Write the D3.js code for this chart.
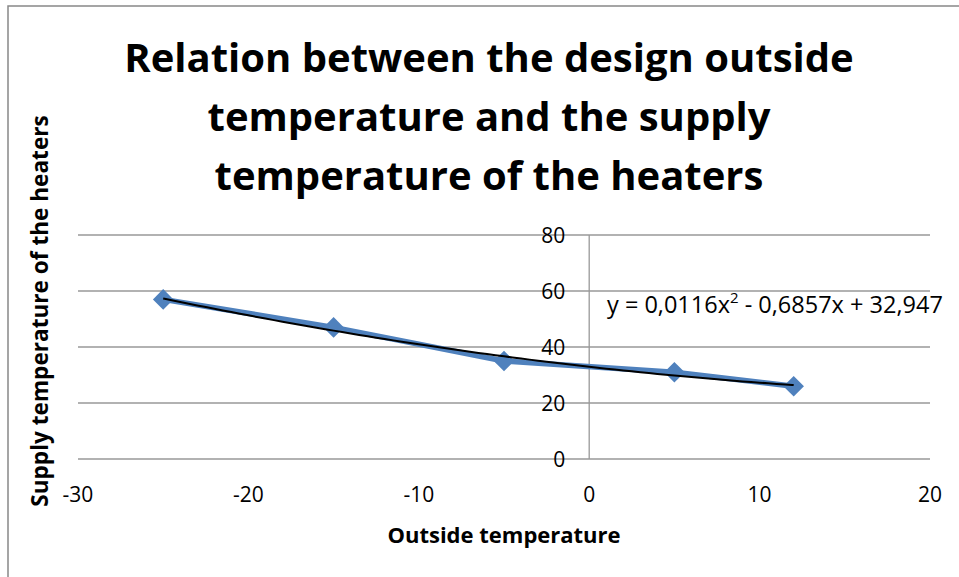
<!DOCTYPE html>
<html lang="en">
<head>
    <meta charset="UTF-8">
    <title>Supply temperature</title>
    <script src="https://d3js.org/d3.v7.min.js"></script>
    <style>
        body { margin: 0; background: #fff; }
        text { font-family: "Open Sans", Lato, sans-serif; fill: #000; }
    </style>
</head>
<body>
<div id="chart"></div>
<script>
    // data
    let outsideTemp = [-25, -15, -5, 5, 12];
    let supplyTemp = [57, 47, 35, 31, 26];
    let trendCoef = [0.0116, -0.6857, 32.947];   // a, b, c of y = ax² + bx + c
    let xTicks = [-30, -20, -10, 0, 10, 20];
    let yTicks = [0, 20, 40, 60, 80];
    let titleLines = ["Relation between the design outside", "temperature and the supply", "temperature of the heaters"];

    let width = 959, height = 577;
    let margin = {top: 235, right: 30, bottom: 118, left: 78};

    let svg = d3.select("#chart").append("svg")
        .attr("width", width)
        .attr("height", height);

    // chart frame (only top and left edges visible)
    svg.append("path")
        .attr("d", `M8,${height} V6 H${width}`)
        .attr("fill", "none")
        .attr("stroke", "#888")
        .attr("stroke-width", 1.5);

    let x = d3.scaleLinear().domain([-30, 20]).range([margin.left, width - margin.right + 1]);
    let y = d3.scaleLinear().domain([0, 80]).range([height - margin.bottom, margin.top]);

    // horizontal gridlines
    svg.append("g")
        .selectAll("line")
        .data(yTicks)
        .enter()
        .append("line")
        .attr("x1", x.range()[0])
        .attr("x2", x.range()[1])
        .attr("y1", d => y(d))
        .attr("y2", d => y(d))
        .attr("stroke", "#999")
        .attr("stroke-width", 1.3);

    // vertical axis at x = 0
    svg.append("line")
        .attr("x1", x(0)).attr("x2", x(0))
        .attr("y1", y(80)).attr("y2", y(0))
        .attr("stroke", "#999")
        .attr("stroke-width", 1.3);

    // y tick labels
    svg.append("g")
        .selectAll("text")
        .data(yTicks)
        .enter()
        .append("text")
        .attr("x", x(0) - 24)
        .attr("y", d => y(d))
        .attr("dy", "0.36em")
        .attr("text-anchor", "end")
        .attr("font-size", "21px")
        .text(d => d);

    // x tick labels
    svg.append("g")
        .selectAll("text")
        .data(xTicks)
        .enter()
        .append("text")
        .attr("x", d => x(d))
        .attr("y", y(0) + 43)
        .attr("text-anchor", "middle")
        .attr("font-size", "21px")
        .text(d => d);

    // series line + markers
    let points = outsideTemp.map((t, i) => [t, supplyTemp[i]]);
    let line = d3.line().x(d => x(d[0])).y(d => y(d[1]));

    svg.append("path")
        .datum(points)
        .attr("d", line)
        .attr("fill", "none")
        .attr("stroke", "#4F81BD")
        .attr("stroke-width", 5.5)
        .attr("stroke-linejoin", "round");

    svg.append("g")
        .selectAll("path")
        .data(points)
        .enter()
        .append("path")
        .attr("d", d3.symbol().type(d3.symbolDiamond2).size(270))
        .attr("transform", d => `translate(${x(d[0])},${y(d[1])})`)
        .attr("fill", "#4F81BD");

    // polynomial trendline
    let trend = d3.range(outsideTemp[0], outsideTemp[outsideTemp.length - 1] + 0.01, 0.5)
        .map(t => [t, trendCoef[0] * t * t + trendCoef[1] * t + trendCoef[2]]);

    svg.append("path")
        .datum(trend)
        .attr("d", line.curve(d3.curveBasis))
        .attr("fill", "none")
        .attr("stroke", "#000")
        .attr("stroke-width", 2);

    // equation label
    let eq = svg.append("text")
        .attr("x", 607)
        .attr("y", 313)
        .attr("font-size", "23.5px");
    eq.append("tspan").text("y = 0,0116x");
    eq.append("tspan").attr("dy", -10).attr("font-size", "15px").text("2");
    eq.append("tspan").attr("dy", 10).text(" - 0,6857x + 32,947");

    // title
    svg.append("g")
        .selectAll("text")
        .data(titleLines)
        .enter()
        .append("text")
        .attr("x", 489)
        .attr("y", (d, i) => 72 + i * 59)
        .attr("text-anchor", "middle")
        .attr("font-size", "40px")
        .attr("font-weight", "bold")
        .text(d => d);

    // axis titles
    svg.append("text")
        .attr("x", (x.range()[0] + x.range()[1]) / 2)
        .attr("y", 543)
        .attr("text-anchor", "middle")
        .attr("font-size", "22px")
        .attr("font-weight", "bold")
        .text("Outside temperature");

    svg.append("text")
        .attr("transform", "translate(48,311) rotate(-90)")
        .attr("text-anchor", "middle")
        .attr("font-size", "22.6px")
        .attr("font-weight", "bold")
        .text("Supply temperature of the heaters");
</script>
</body>
</html>
